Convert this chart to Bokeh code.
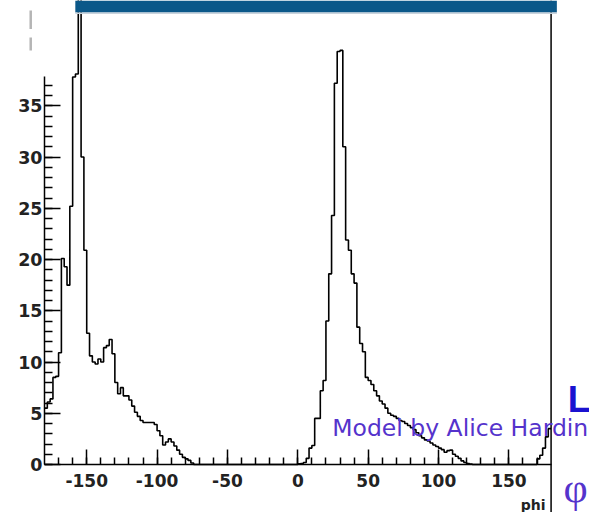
import numpy as np
from bokeh.plotting import figure
from bokeh.models import Range1d, FixedTicker, Span, Label, BoxAnnotation
from bokeh.embed import file_html
from bokeh.resources import INLINE

# ---- data ----
BIN_LO = -180.0
BIN_WIDTH = 2.0
counts = [
    5.5, 6.1, 6.4, 8.5, 8.6, 10.9, 20.1, 19.3, 17.5, 25.2,
    37.8, 38.1, 47.0, 30.0, 20.9, 12.8, 10.6, 10.0, 9.8, 10.3,
    10.0, 11.4, 11.6, 12.2, 10.8, 8.0, 6.9, 7.5, 6.7, 6.7,
    6.3, 5.7, 5.1, 4.7, 4.3, 4.1, 4.1, 4.1, 4.1, 3.9,
    3.3, 2.8, 1.9, 2.2, 2.5, 2.2, 1.8, 1.4, 1.0, 0.7,
    0.55, 0.4, 0.15,
] + [0.0] * 37 + [
    0.07, 0.1, 0.2, 0.6, 1.6, 1.85, 4.5, 4.5, 7.2, 8.2,
    14.0, 18.6, 24.3, 37.2, 40.3, 40.4, 31.0, 21.9, 20.9, 18.6,
    17.7, 13.4, 11.8, 11.0, 8.5, 8.2, 7.8, 7.2, 6.7, 6.2,
    5.9, 5.5, 5.0, 4.8, 4.7, 4.5, 4.3, 4.2, 4.0, 3.8,
    3.6, 3.4, 3.1, 2.8, 2.6, 2.4, 2.3, 2.1, 1.9, 1.75,
    1.6, 1.45, 1.2, 1.35, 1.4, 1.0, 0.8, 0.6, 0.35, 0.2,
    0.1, 0.05,
] + [0.0] * 23 + [0.55, 0.9, 1.6, 2.7, 3.5]

x_ticks = [-150, -100, -50, 0, 50, 100, 150]
x_tick_labels = ["-150", "-100", "-50", "0", "50", "100", "150"]
y_ticks = [0, 5, 10, 15, 20, 25, 30, 35]
y_tick_labels = ["0", "5", "10", "15", "20", "25", "30", "35"]
x_title = "phi"
note_text = "Model by Alice Hardin"

# ---- build step outline ----
vals = np.array(counts)
edges = BIN_LO + BIN_WIDTH * np.arange(len(vals) + 1)
xs = np.repeat(edges, 2)[1:-1]
ys = np.repeat(vals, 2)

p = figure(width=589, height=512, output_backend="svg", toolbar_location=None,
           x_range=Range1d(-211.27, 207.3), y_range=Range1d(-4.683, 45.27),
           min_border_left=0, min_border_right=0, min_border_top=0,
           min_border_bottom=0)
p.outline_line_color = None
p.xgrid.visible = False
p.ygrid.visible = False
p.background_fill_color = "white"
p.border_fill_color = "white"

p.line(xs, ys, line_color="black", line_width=1.6)

# decorative dashes at the far left (slide element)
p.segment(x0=[-189.8, -189.8], y0=[42.5, 40.4], x1=[-189.8, -189.8], y1=[44.3, 41.66],
          line_color="#b5b5b5", line_width=2.5)

# axes
xa = p.xaxis[0]
xa.fixed_location = 0
xa.ticker = FixedTicker(ticks=x_ticks, minor_ticks=list(range(-170, 180, 10)))
xa.major_label_overrides = {t: s for t, s in zip(x_ticks, x_tick_labels)}
xa.bounds = (-180, 180)
xa.major_tick_in = 15
xa.major_tick_out = 0
xa.minor_tick_in = 7
xa.minor_tick_out = 0
xa.axis_line_width = 1.5
xa.major_tick_line_width = 1.5
xa.minor_tick_line_width = 1.5
xa.major_label_text_font = "DejaVu Sans"
xa.major_label_text_font_style = "bold"
xa.major_label_text_font_size = "17px"
xa.major_label_text_color = "#222222"
xa.major_label_standoff = 9

ya = p.yaxis[0]
ya.fixed_location = -180
ya.ticker = FixedTicker(ticks=y_ticks, minor_ticks=list(range(0, 38)))
ya.major_label_overrides = {t: s for t, s in zip(y_ticks, y_tick_labels)}
ya.bounds = (0, 37.9)
ya.major_tick_in = 16
ya.major_tick_out = 0
ya.minor_tick_in = 8
ya.minor_tick_out = 0
ya.axis_line_width = 1.5
ya.major_tick_line_width = 1.5
ya.minor_tick_line_width = 1.5
ya.major_label_text_font = "DejaVu Sans"
ya.major_label_text_font_style = "bold"
ya.major_label_text_font_size = "17.5px"
ya.major_label_text_color = "#222222"
ya.major_label_standoff = 2

# right frame line
p.add_layout(Span(location=180, dimension="height", line_color="black", line_width=1.5))

# top banner
p.add_layout(BoxAnnotation(left=-158.1, right=184.1, bottom=44.1,
                           fill_color="#0b5889", fill_alpha=1.0, line_color=None))
p.add_layout(BoxAnnotation(left=-158.1, right=184.1, bottom=43.95, top=44.1,
                           fill_color="#c9d3dc", fill_alpha=1.0, line_color=None))

# texts
p.add_layout(Label(x=176, y=-4.0, text=x_title, text_align="right",
                   text_baseline="alphabetic", text_font="DejaVu Sans",
                   text_font_style="bold", text_font_size="14px", text_color="#222222"))
p.add_layout(Label(x=24.5, y=3.6, text=note_text, text_baseline="alphabetic",
                   text_font="DejaVu Sans", text_font_size="23.5px", text_color="#5533cc"))
p.add_layout(Label(x=191.9, y=6.35, text="L", text_baseline="alphabetic",
                   text_font="Liberation Sans", text_font_style="bold",
                   text_font_size="37px", text_color="#1a12d0"))
p.add_layout(Label(x=188.8, y=-2.34, text="φ", text_baseline="middle",
                   text_font="Liberation Serif", text_font_size="42px", text_color="#5533cc"))

open("out.html", "w").write(file_html(p, INLINE))
